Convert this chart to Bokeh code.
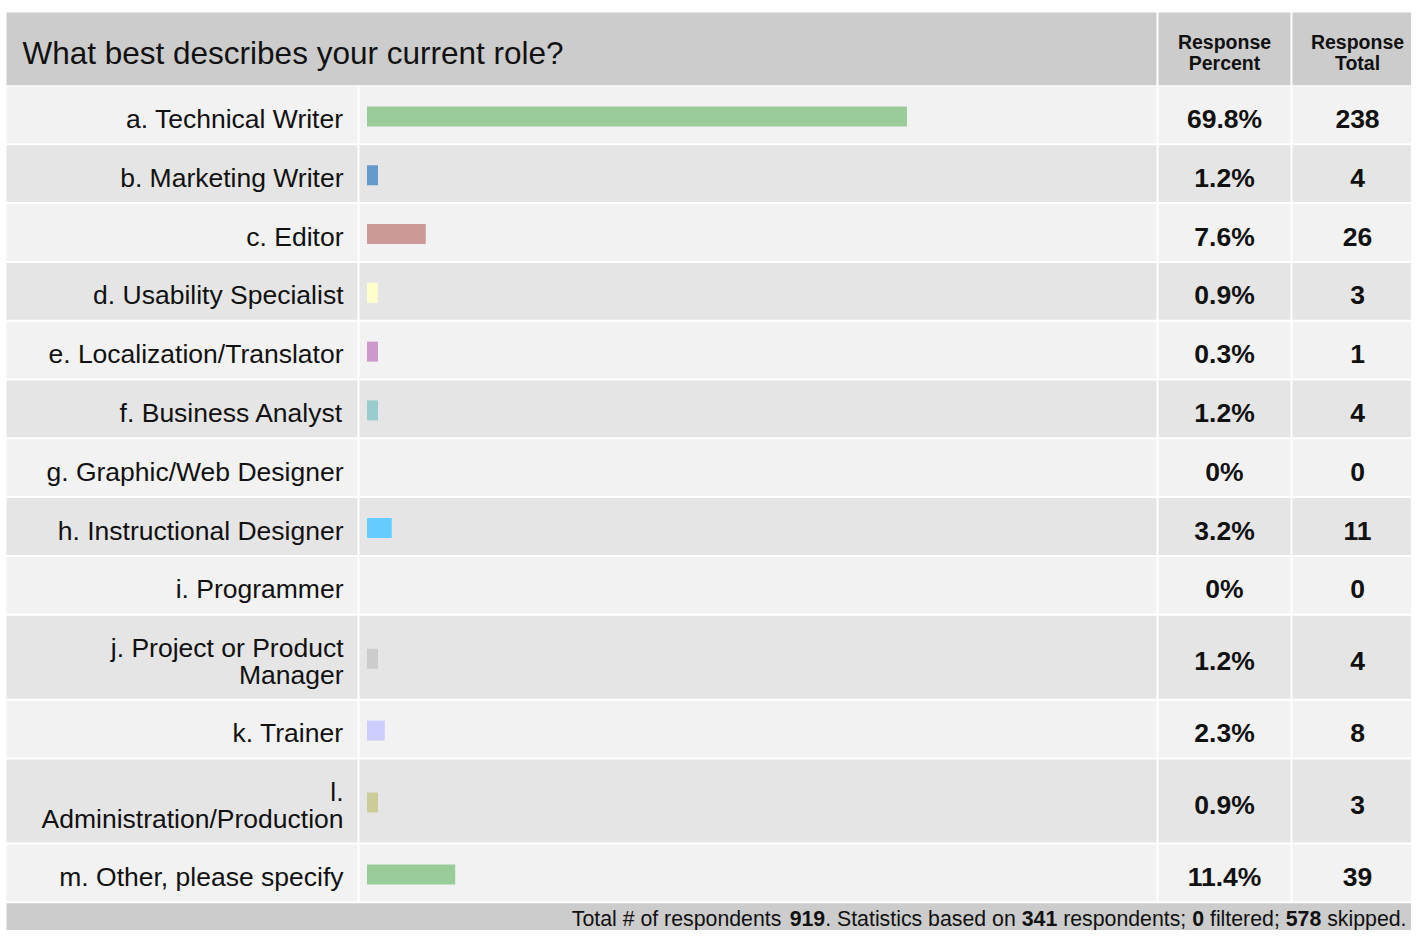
from bokeh.plotting import figure
from bokeh.models import ColumnDataSource, Range1d
from bokeh.embed import file_html
from bokeh.resources import INLINE
from bokeh.core.properties import value

# ---------------- data ----------------
question = "What best describes your current role?"
choices = [
    "a. Technical Writer",
    "b. Marketing Writer",
    "c. Editor",
    "d. Usability Specialist",
    "e. Localization/Translator",
    "f. Business Analyst",
    "g. Graphic/Web Designer",
    "h. Instructional Designer",
    "i. Programmer",
    "j. Project or Product\nManager",
    "k. Trainer",
    "l.\nAdministration/Production",
    "m. Other, please specify",
]
percents = [69.8, 1.2, 7.6, 0.9, 0.3, 1.2, 0, 3.2, 0, 1.2, 2.3, 0.9, 11.4]
totals = [238, 4, 26, 3, 1, 4, 0, 11, 0, 4, 8, 3, 39]
bar_colors = ["#99cc99", "#6699cc", "#cc9999", "#ffffcc", "#cc99cc", "#99cccc",
              "#99cc99", "#66ccff", "#cccccc", "#cccccc", "#ccccff", "#cccc99", "#99cc99"]
header_cols = ["Response\nPercent", "Response\nTotal"]
footer_parts = [
    ("Total # of respondents ", False), ("919", True),
    (". Statistics based on ", False), ("341", True),
    (" respondents; ", False), ("0", True),
    (" filtered; ", False), ("578", True),
    (" skipped.", False),
]

# ---------------- layout ----------------
FONT = "Liberation Sans"
X0, X_LAB_R, X_BAR_L, X_BAR_R = 6, 357, 359, 1156
X_PCT_L, X_PCT_R, X_TOT_L, X_TOT_R = 1158, 1290, 1292, 1422
HEAD_T, HEAD_B = 12, 84.8
ROW_START = 86.0
GAP = 2.0
H1, LINE_H = 56.8, 26.2
BAR_X0 = 366.5
PX_PER_PCT = 540 / 69.8
MIN_BAR = 11
BAR_H = 20

p = figure(width=1411, height=930, x_range=Range1d(0, 1411), y_range=Range1d(930, 0),
           output_backend="svg", toolbar_location=None, min_border=0,
           x_axis_location=None, y_axis_location=None)
p.grid.visible = False
p.outline_line_color = None
p.background_fill_color = "#ffffff"
p.border_fill_color = "#ffffff"

# header cells
p.quad(left=[X0, X_PCT_L, X_TOT_L], right=[X_BAR_R, X_PCT_R, X_TOT_R],
       top=[HEAD_T] * 3, bottom=[HEAD_B] * 3, fill_color="#cccccc", line_color=None)
p.text(x=[22], y=[HEAD_T + (HEAD_B - HEAD_T) / 2 + 4.5], text=[question],
       text_align="left", text_baseline="middle", text_font=value(FONT),
       text_font_size="31.5px", text_color="#111111")
hx, hy, ht = [], [], []
for cx, lab in zip([(X_PCT_L + X_PCT_R) / 2, (X_TOT_L + X_TOT_R) / 2], header_cols):
    for i, ln in enumerate(lab.split("\n")):
        hx.append(cx)
        hy.append(41 + i * 21)
        ht.append(ln)
p.text(x=hx, y=hy, text=ht, text_align="center", text_baseline="middle",
       text_font=value(FONT), text_font_size="19.5px", text_font_style="bold",
       text_color="#111111")

# rows
cell_l, cell_r, cell_t, cell_b, cell_c = [], [], [], [], []
lab_x, lab_y, lab_t = [], [], []
val_x, val_y, val_t = [], [], []
bar_l, bar_r, bar_t, bar_b, bar_c = [], [], [], [], []
y = ROW_START
for i, (ch, pc, tot, col) in enumerate(zip(choices, percents, totals, bar_colors)):
    lines = ch.split("\n")
    h = H1 + (len(lines) - 1) * LINE_H
    fill = "#f2f2f2" if i % 2 == 0 else "#e5e5e5"
    for l, r in [(X0, X_LAB_R), (X_BAR_L, X_BAR_R), (X_PCT_L, X_PCT_R), (X_TOT_L, X_TOT_R)]:
        cell_l.append(l); cell_r.append(r); cell_t.append(y); cell_b.append(y + h); cell_c.append(fill)
    cy = y + h / 2
    n = len(lines)
    for j, ln in enumerate(lines):
        lab_x.append(343)
        lab_y.append(cy + 4 + (j - (n - 1) / 2) * 27)
        lab_t.append(ln)
    val_x += [(X_PCT_L + X_PCT_R) / 2, (X_TOT_L + X_TOT_R) / 2]
    val_y += [cy + 4, cy + 4]
    val_t += [f"{pc:g}%", f"{tot}"]
    if pc > 0:
        w = max(pc * PX_PER_PCT, MIN_BAR)
        bar_l.append(BAR_X0); bar_r.append(BAR_X0 + w)
        bar_t.append(cy + 1.5 - BAR_H / 2); bar_b.append(cy + 1.5 + BAR_H / 2)
        bar_c.append(col)
    y += h + GAP

p.quad(source=ColumnDataSource(dict(l=cell_l, r=cell_r, t=cell_t, b=cell_b, c=cell_c)),
       left="l", right="r", top="t", bottom="b", fill_color="c", line_color=None)
p.quad(source=ColumnDataSource(dict(l=bar_l, r=bar_r, t=bar_t, b=bar_b, c=bar_c)),
       left="l", right="r", top="t", bottom="b", fill_color="c", line_color=None)
p.text(x=lab_x, y=lab_y, text=lab_t, text_align="right", text_baseline="middle",
       text_font=value(FONT), text_font_size="26.5px", text_color="#111111")
p.text(x=val_x, y=val_y, text=val_t, text_align="center", text_baseline="middle",
       text_font=value(FONT), text_font_size="26.5px", text_font_style="bold",
       text_color="#111111")

# footer
foot_top = y
p.quad(left=[X0], right=[X_TOT_R], top=[foot_top], bottom=[960], fill_color="#cccccc", line_color=None)
W = {" ": 278, "#": 556, ".": 278, ";": 278, "T": 611, "S": 667, "a": 556, "b": 556,
     "c": 500, "d": 556, "e": 556, "f": 278, "i": 222, "k": 500, "l": 222, "n": 556,
     "o": 556, "p": 556, "r": 333, "s": 500, "t": 278, "u": 556}
FS = 21.3
def width(s):
    return sum(W.get(ch, 556) for ch in s) / 1000 * FS
total_w = sum(width(s) for s, _ in footer_parts)
x = 1406 - total_w
reg = dict(x=[], y=[], t=[])
bold = dict(x=[], y=[], t=[])
FOOT_Y = 918
for s, b in footer_parts:
    d = bold if b else reg
    lead = len(s) - len(s.lstrip(" "))
    d["x"].append(x + width(" " * lead)); d["y"].append(FOOT_Y); d["t"].append(s.strip(" "))
    x += width(s)
for d, style in [(reg, "normal"), (bold, "bold")]:
    p.text(x=d["x"], y=d["y"], text=d["t"], text_align="left", text_baseline="middle",
           text_font=value(FONT), text_font_size=f"{FS}px", text_font_style=style,
           text_color="#111111")

open("out.html", "w").write(file_html(p, INLINE))
